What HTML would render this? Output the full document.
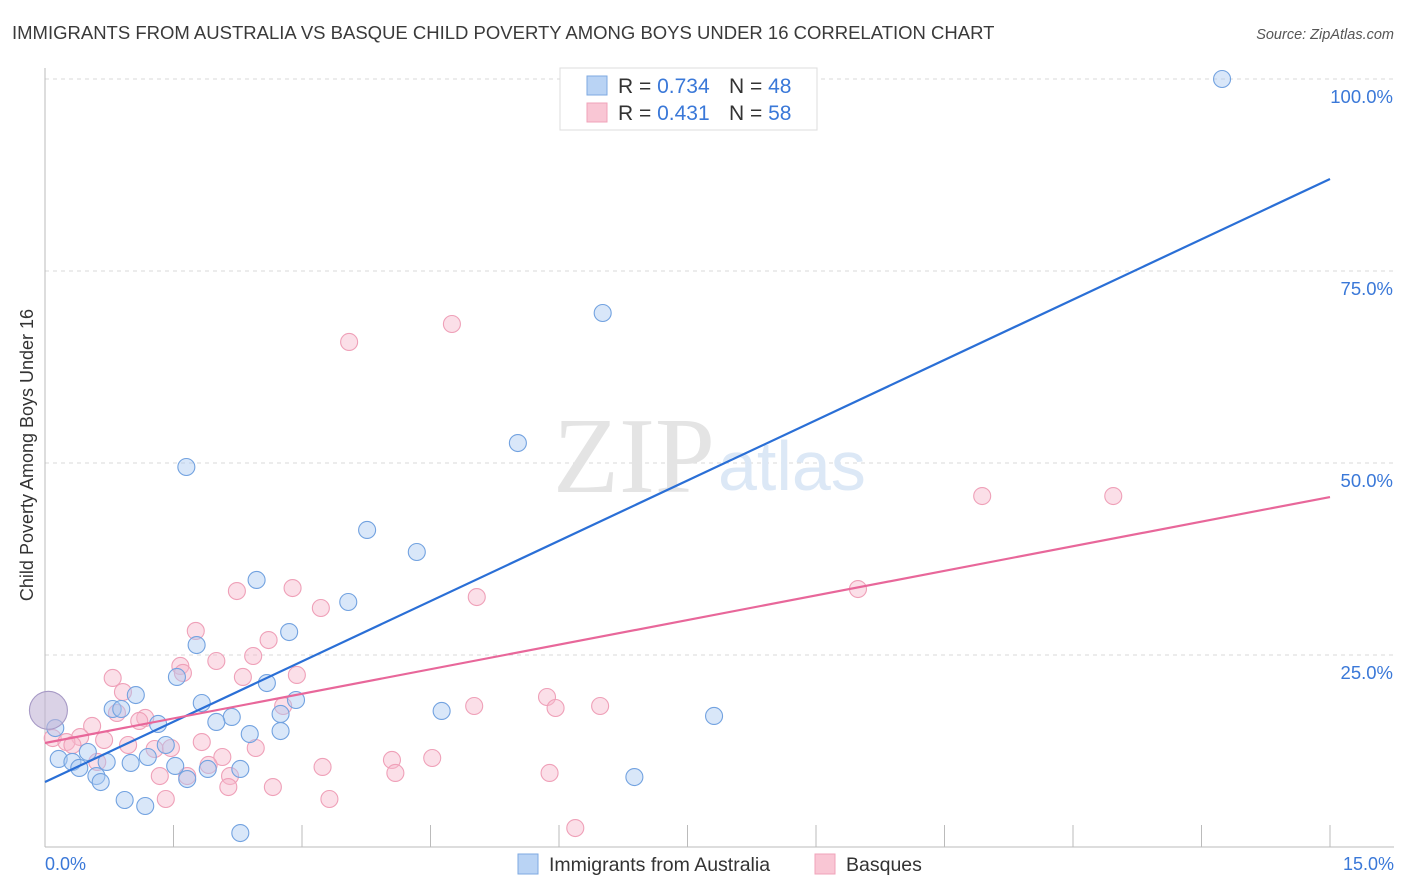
<!DOCTYPE html>
<html><head><meta charset="utf-8"><style>
body{margin:0;background:#fff;font-family:"Liberation Sans",sans-serif;}
svg{display:block}
</style></head><body>
<svg id="chart" width="1406" height="892">
<text x="12" y="39" font-size="18.5" fill="#3a3a3a">IMMIGRANTS FROM AUSTRALIA VS BASQUE CHILD POVERTY AMONG BOYS UNDER 16 CORRELATION CHART</text>
<text x="1394" y="39" font-size="14.5" fill="#555" font-style="italic" text-anchor="end">Source: ZipAtlas.com</text>
<text transform="translate(33,455) rotate(-90)" font-size="18" fill="#333" text-anchor="middle">Child Poverty Among Boys Under 16</text>
<g id="grid"></g>
<text x="553" y="492" font-size="108" fill="#e4e4e4" font-family="Liberation Serif,serif">ZIP</text>
<text x="718" y="490" font-size="70" fill="#dce8f6">atlas</text>
<g id="pts"></g>
<g id="lines"></g>
<g>
<rect x="560" y="68" width="257" height="62" fill="#fff" stroke="#ddd"/>
<rect x="587" y="76" width="20" height="19" fill="#b9d3f4" stroke="#7ea9e2"/>
<rect x="587" y="103" width="20" height="19" fill="#f9c6d4" stroke="#f0a3ba"/>
<text x="618" y="93" font-size="21" fill="#333">R = <tspan fill="#3a78d8">0.734</tspan></text>
<text x="729" y="93" font-size="21" fill="#333">N = <tspan fill="#3a78d8">48</tspan></text>
<text x="618" y="120" font-size="21" fill="#333">R = <tspan fill="#3a78d8"> 0.431</tspan></text>
<text x="729" y="120" font-size="21" fill="#333">N = <tspan fill="#3a78d8">58</tspan></text>
</g>
<g>
<rect x="518" y="854" width="20" height="20" fill="#b9d3f4" stroke="#7ea9e2"/>
<text x="549" y="871" font-size="19.5" fill="#333">Immigrants from Australia</text>
<rect x="815" y="854" width="20" height="20" fill="#f9c6d4" stroke="#f0a3ba"/>
<text x="846" y="871" font-size="19.5" fill="#333">Basques</text>
</g>
<text x="45" y="870" font-size="18" fill="#3a78d8">0.0%</text>
<text x="1394" y="870" font-size="18" fill="#3a78d8" text-anchor="end">15.0%</text>
</svg>
<script>
const yTicks=[100,75,50,25];
const yTickLabels=["100.0%","75.0%","50.0%","25.0%"];
const blueX=[13.74,6.51,5.52,1.65,3.76,4.34,2.47,3.54,2.85,1.77,1.54,2.59,1.06,2.93,1.83,0.79,0.89,4.63,7.81,0.12,1.32,2.18,2.00,2.75,2.75,2.39,1.41,0.50,0.16,0.32,1.20,0.72,1.00,1.52,2.28,1.90,0.40,0.60,1.66,0.65,6.88,0.93,1.17,2.28];
const blueY=[100.0,69.53,52.60,49.48,41.28,38.41,34.77,31.90,27.99,26.30,22.14,21.35,19.79,19.14,18.75,17.97,17.97,17.71,17.06,15.49,16.02,16.93,16.28,17.32,15.10,14.71,13.28,12.37,11.46,11.07,11.72,11.07,10.94,10.55,10.16,10.16,10.29,9.24,8.85,8.46,9.11,6.12,5.34,1.82];
const pinkX=[4.75,3.55,10.94,12.47,9.49,2.24,2.89,5.04,3.22,1.76,2.61,1.58,1.61,2.00,2.43,0.79,2.31,2.94,0.91,2.78,0.84,1.17,1.10,5.01,5.86,5.96,6.48,0.55,0.09,0.69,0.41,0.25,0.32,0.97,1.28,1.83,1.47,2.07,2.46,1.91,4.05,4.52,1.34,2.16,4.09,3.24,1.66,2.14,2.66,1.41,3.32,5.89,6.19,0.61];
const pinkY=[68.10,65.76,45.70,45.70,33.59,33.33,33.72,32.55,31.12,28.13,26.95,23.57,22.66,24.22,24.87,22.01,22.14,22.40,20.18,18.36,17.45,16.80,16.41,18.36,19.53,18.10,18.36,15.76,14.19,13.93,14.32,13.67,13.28,13.28,12.76,13.67,12.89,11.72,12.89,10.68,11.33,11.59,9.24,9.24,9.64,10.42,9.24,7.81,7.81,6.25,6.25,9.64,2.47,11.07];
const bigPoint=[0.04,17.8];
const blueLine=[8.46,86.98];
const pinkLine=[13.54,45.57];
const NS="http://www.w3.org/2000/svg";
const X0=45,X1=1330,Y0=847,Y100=79;
function sx(v){return X0+(X1-X0)*v/15;}
function sy(v){return Y0-(Y0-Y100)*v/100;}
function mk(t,a,p){const e=document.createElementNS(NS,t);for(const k in a)e.setAttribute(k,a[k]);p.appendChild(e);return e;}
const grid=document.getElementById('grid');
yTicks.forEach((t,i)=>{
 const l=mk('line',{x1:X0,x2:1394,y1:sy(t),y2:sy(t),stroke:'#d8d8d8','stroke-dasharray':'4,4'},grid);
 
 
 const tx=mk('text',{x:1393,y:sy(t)+24,'font-size':18.5,fill:'#3a78d8','text-anchor':'end'},grid);
 tx.textContent=yTickLabels[i];
 
 
});
const ax=mk('line',{x1:X0,x2:X0,y1:68,y2:Y0,stroke:'#bbb'},grid);


const bx=mk('line',{x1:X0,x2:1394,y1:Y0,y2:Y0,stroke:'#bbb'},grid);


for(let k=1;k<=10;k++){
 const t=mk('line',{x1:sx(k*1.5),x2:sx(k*1.5),y1:825,y2:Y0,stroke:'#bbb'},grid);
 
 
}
const pts=document.getElementById('pts');
function dot(x,y,r,fill,st,name,op){
 const c=mk('circle',{cx:sx(x),cy:sy(y),r:r,fill:fill,'fill-opacity':op,stroke:st,'stroke-width':1.1},pts);
 
 
}
pinkX.forEach((x,i)=>dot(x,pinkY[i],8.5,'#f7b8cb','#efa0b8','basques-point',0.45));
blueX.forEach((x,i)=>dot(x,blueY[i],8.5,'#aac9f1','#72a2e0','australia-point',0.45));
dot(bigPoint[0],bigPoint[1],19,'#c2b4d6','#a79ac6','big-point',0.6);
const lines=document.getElementById('lines');
const bl=mk('line',{x1:sx(0),y1:sy(blueLine[0]),x2:sx(15),y2:sy(blueLine[1]),stroke:'#2a6fd6','stroke-width':2.2},lines);


const pl=mk('line',{x1:sx(0),y1:sy(pinkLine[0]),x2:sx(15),y2:sy(pinkLine[1]),stroke:'#e8679a','stroke-width':2.2},lines);


</script>
</body></html>
